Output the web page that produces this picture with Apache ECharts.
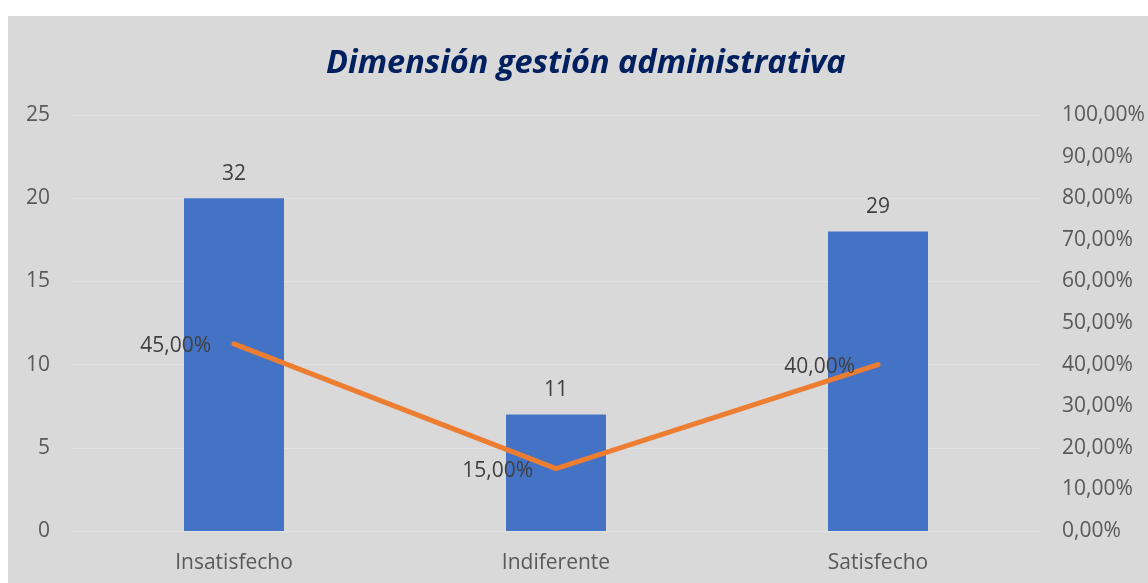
<!DOCTYPE html>
<html>
<head>
<meta charset="utf-8">
<script src="https://cdn.jsdelivr.net/npm/echarts@6/dist/echarts.min.js"></script>
<style>
html,body{margin:0;padding:0;background:#ffffff;width:1148px;height:583px;overflow:hidden;}
#bg{position:absolute;left:8px;top:16px;width:1140px;height:567px;background:#d9d9d9;}
#chart{position:absolute;left:0;top:0;width:1148px;height:583px;}
</style>
</head>
<body>
<div id="bg"></div>
<div id="chart"></div>
<script>
var categories = ['Insatisfecho', 'Indiferente', 'Satisfecho'];
var barValues = [20, 7, 18];
var barLabels = ['32', '11', '29'];
var lineValues = [0.45, 0.15, 0.40];
var leftTicks = [0, 5, 10, 15, 20, 25];
var titleText = 'Dimensión gestión administrativa';

var chart = echarts.init(document.getElementById('chart'), null, {renderer: 'canvas'});
var font = 'Open Sans';
function pct(v) { return (v * 100).toFixed(2).replace('.', ',') + '%'; }
chart.setOption({
  backgroundColor: 'transparent',
  animation: false,
  title: {
    text: titleText,
    left: 321,
    top: 42,
    textStyle: {fontFamily: font, fontSize: 32.5, fontWeight: 'bold', fontStyle: 'italic', color: '#002060'}
  },
  grid: {left: 73, right: 109, top: 115, bottom: 52, containLabel: false},
  xAxis: {
    type: 'category',
    data: categories,
    axisLine: {show: true, lineStyle: {color: '#e2e2e2'}},
    axisTick: {show: false},
    axisLabel: {fontFamily: font, fontSize: 21, color: '#595959', margin: 22}
  },
  yAxis: [{
    type: 'value',
    min: leftTicks[0],
    max: leftTicks[leftTicks.length - 1],
    interval: 5,
    axisLine: {show: false},
    axisTick: {show: false},
    splitLine: {show: true, lineStyle: {color: '#e2e2e2', width: 1}},
    axisLabel: {fontFamily: font, fontSize: 21, color: '#595959', margin: 23}
  }, {
    type: 'value',
    min: 0,
    max: 1,
    interval: 0.1,
    axisLine: {show: false},
    axisTick: {show: false},
    splitLine: {show: false},
    axisLabel: {fontFamily: font, fontSize: 21, color: '#595959', margin: 23, formatter: pct}
  }],
  series: [{
    type: 'bar',
    data: barValues,
    barWidth: 100,
    itemStyle: {color: '#4472c4'},
    label: {
      show: true,
      position: 'top',
      distance: 14,
      fontFamily: font, fontSize: 21, color: '#404040',
      formatter: function (p) { return barLabels[p.dataIndex]; }
    }
  }, {
    type: 'line',
    yAxisIndex: 1,
    data: lineValues,
    symbol: 'circle',
    symbolSize: 2,
    showSymbol: true,
    showAllSymbol: true,
    itemStyle: {color: 'rgba(237,125,49,0)'},
    lineStyle: {color: '#ed7d31', width: 5, cap: 'round', join: 'round'},
    label: {
      show: true,
      position: 'left',
      distance: 22,
      offset: [0, 2],
      fontFamily: font, fontSize: 21, color: '#404040',
      formatter: function (p) { return pct(p.value); }
    },
    z: 5
  }]
});
</script>
</body>
</html>
